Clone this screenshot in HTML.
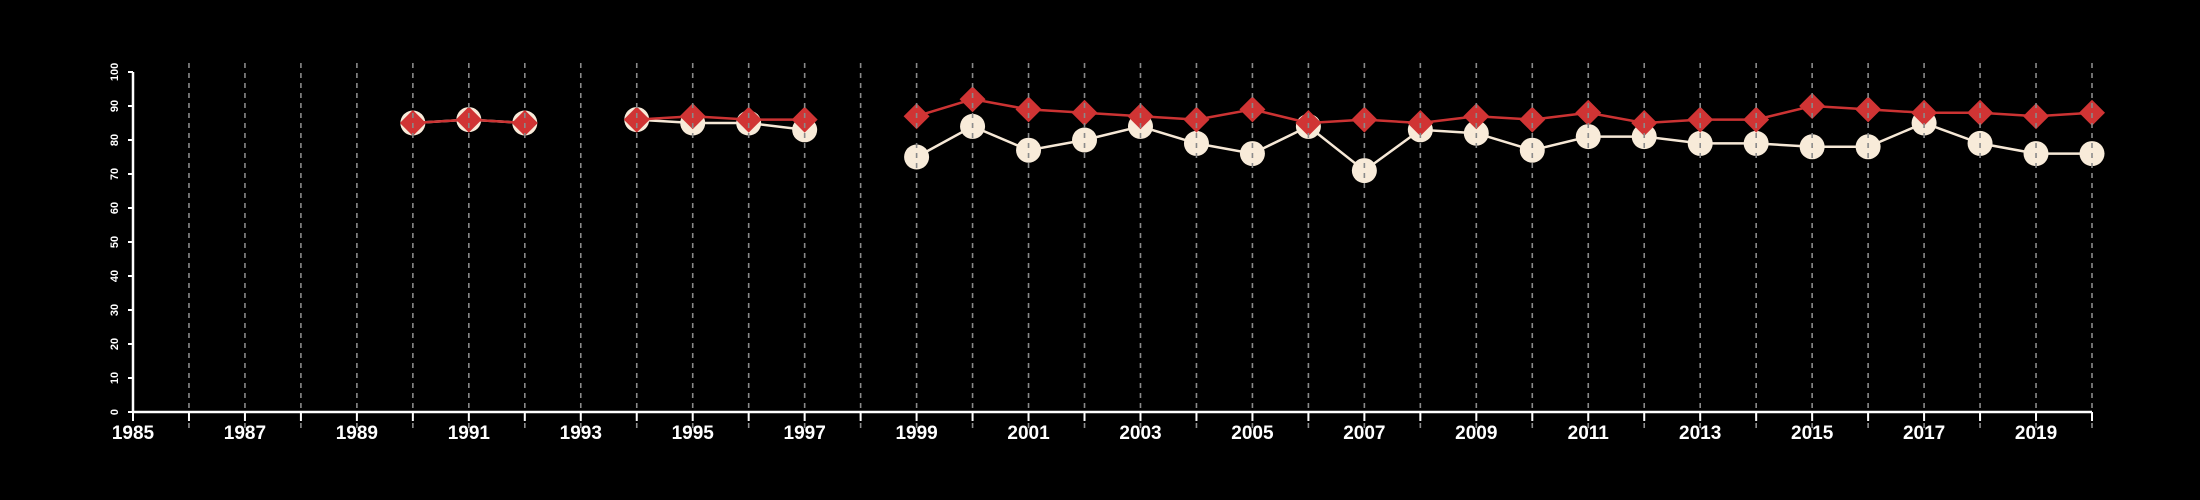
<!DOCTYPE html>
<html><head><meta charset="utf-8"><style>html,body{margin:0;background:#000}svg{display:block}</style></head>
<body>
<svg id="chart" width="2200" height="500" xmlns="http://www.w3.org/2000/svg" font-family="Liberation Sans, sans-serif">
<rect width="2200" height="500" fill="#000"/>
</svg>
<script>
const years = [1990,1991,1992,1993,1994,1995,1996,1997,1998,1999,2000,2001,2002,2003,2004,2005,2006,2007,2008,2009,2010,2011,2012,2013,2014,2015,2016,2017,2018,2019,2020];
const redValues = [85,86,85,null,86,87,86,86,null,87,92,89,88,87,86,89,85,86,85,87,86,88,85,86,86,90,89,88,88,87,88];
const creamValues = [85,86,85,null,86,85,85,83,null,75,84,77,80,84,79,76,84,71,83,82,77,81,81,79,79,78,78,85,79,76,76];
const yTicks = [0,10,20,30,40,50,60,70,80,90,100];
const xTickLabels = [1985,1987,1989,1991,1993,1995,1997,1999,2001,2003,2005,2007,2009,2011,2013,2015,2017,2019];

const svg = document.getElementById('chart');
const NS = 'http://www.w3.org/2000/svg';
const X0 = 133, XS = (2092-133)/35, Y0 = 412, YS = 3.4;
const xs = v => X0 + (v-1985)*XS;
const ys = v => Y0 - v*YS;
function mk(tag, attrs, parent){const e=document.createElementNS(NS,tag);for(const k in attrs)e.setAttribute(k,attrs[k]);(parent||svg).appendChild(e);return e;}

// series lines
function drawLine(vals,color,name){
  let seg=[];
  const flush=()=>{ if(seg.length>1){const p=mk('polyline',{points:seg.join(' '),fill:'none',stroke:color,'stroke-width':2.5});
    
    } seg=[]; };
  vals.forEach((v,i)=>{ if(v===null) flush(); else seg.push(xs(years[i])+','+ys(v)); });
  flush();
}
drawLine(creamValues,'#f6e8d6','cream-series');
creamValues.forEach((v,i)=>{ if(v===null) return;
  const c=mk('circle',{cx:xs(years[i]),cy:ys(v),r:12.5,fill:'#f8ebd9'});
  
  
});
drawLine(redValues,'#cc3333','red-series');
redValues.forEach((v,i)=>{ if(v===null) return;
  const x=xs(years[i]), y=ys(v), d=13;
  const p=mk('polygon',{points:`${x},${y-d} ${x+d},${y} ${x},${y+d} ${x-d},${y}`,fill:'#d03434'});
  
  
});

// gridlines on top
for(let yr=1986; yr<=2020; yr++){
  const g=mk('line',{x1:xs(yr),x2:xs(yr),y1:63,y2:428,stroke:'#8a8a8a','stroke-width':1.6,'stroke-dasharray':'5,5'});
  
  
}

// axes
const xa=mk('line',{x1:X0,x2:xs(2020),y1:Y0,y2:Y0,stroke:'#fff','stroke-width':2.5});


for(let yr=1985; yr<=2020; yr++){
  const t=mk('line',{x1:xs(yr),x2:xs(yr),y1:Y0,y2:Y0+9,stroke:'#fff','stroke-width':2});
  
  
}
xTickLabels.forEach(l=>{
  const t=mk('text',{x:xs(l),y:439,fill:'#fff','font-size':19,'font-weight':'bold','text-anchor':'middle'});
  t.textContent=l;
  
  
});
const ya=mk('line',{x1:X0,x2:X0,y1:ys(100),y2:Y0,stroke:'#fff','stroke-width':2.5});


yTicks.forEach(v=>{
  const t=mk('line',{x1:X0-5,x2:X0,y1:ys(v),y2:ys(v),stroke:'#fff','stroke-width':2});
  
  
  const l=mk('text',{x:0,y:0,fill:'#fff','font-size':11,'font-weight':'bold','text-anchor':'middle',transform:`translate(118,${ys(v)}) rotate(-90)`});
  l.textContent=v;
  
  
});
</script>
</body></html>
